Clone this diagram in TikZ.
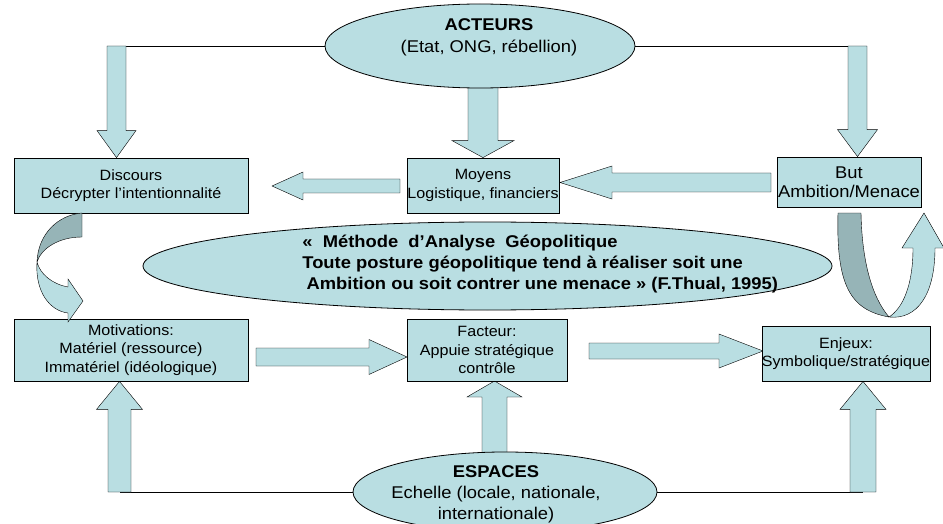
\documentclass[tikz,border=0pt]{standalone}
\usepackage{fontspec}
\setmainfont{Liberation Sans}[FakeStretch=1.08]
\usetikzlibrary{shapes.geometric,calc,backgrounds}
\definecolor{lb}{RGB}{185,222,226}
\definecolor{db}{RGB}{150,180,183}
\newcommand{\vblk}[5]{%
 \filldraw[blk] let \p1=(#1), \p2=(#2), \n1={sign(\y2-\y1)} in
  ({\x1-#3},\y1) -- ({\x1+#3},\y1) -- ({\x1+#3},{\y2-\n1*#5}) -- ({\x1+#4},{\y2-\n1*#5}) -- (\x1,\y2) -- ({\x1-#4},{\y2-\n1*#5}) -- ({\x1-#3},{\y2-\n1*#5}) -- cycle;}
\newcommand{\hblk}[5]{%
 \filldraw[blk] let \p1=(#1), \p2=(#2), \n1={sign(\x2-\x1)} in
  (\x1,{\y1-#3}) -- (\x1,{\y1+#3}) -- ({\x2-\n1*#5},{\y1+#3}) -- ({\x2-\n1*#5},{\y1+#4}) -- (\x2,\y1) -- ({\x2-\n1*#5},{\y1-#4}) -- ({\x2-\n1*#5},{\y1-#3}) -- cycle;}
\begin{document}
\begin{tikzpicture}[x=1pt,y=-1pt,line width=0.8pt,
  box/.style={draw,fill=lb,inner sep=0pt,align=center,font=\fontsize{14.9}{18.5}\selectfont},
  ell/.style={draw,fill=lb,ellipse,inner sep=0pt},
  blk/.style={draw,fill=lb,line join=miter},
  dblk/.style={draw,fill=db,line join=round},
  lbl/.style={align=center,inner sep=0pt}]
\useasboundingbox (0,0) rectangle (943,524);
% boxes
\node[box,minimum width=234pt,minimum height=55pt] (discours) at (131,185.5) {Discours\\Décrypter l’intentionnalité};
\node[box,minimum width=152pt,minimum height=55pt] (moyens) at (483,185.5) {Moyens\\Logistique, financiers};
\node[box,minimum width=144pt,minimum height=50pt,font=\fontsize{17}{19.5}\selectfont] (but) at (849,182) {But\\Ambition/Menace};
\node[box,minimum width=234pt,minimum height=62pt] (motiv) at (131,350) {Motivations:\\Matériel (ressource)\\Immatériel (idéologique)};
\node[box,minimum width=160pt,minimum height=62pt] (facteur) at (487,350) {Facteur:\\Appuie stratégique\\contrôle};
\node[box,minimum width=166pt,minimum height=55pt] (enjeux) at (846,353.5) {Enjeux:\\Symbolique/stratégique};
% ellipses
\node[ell,minimum width=310pt,minimum height=84pt] (acteurs) at (480,46) {};
\node[lbl,font=\fontsize{17}{22}\selectfont] (acteursT) at (489,37) {\textbf{ACTEURS}\\(Etat, ONG, rébellion)};
\node[ell,minimum width=689pt,minimum height=88pt] (methode) at (487.5,266) {};
\node[lbl,anchor=west,align=left,font=\bfseries\fontsize{17}{21}\selectfont] (methodeT) at (302,264)
  {«\ \ Méthode\ \ d’Analyse\ \ Géopolitique\\Toute posture géopolitique tend à réaliser soit une\\\hspace{0.25em}Ambition ou soit contrer une menace » (F.Thual, 1995)};
\node[ell,minimum width=304pt,minimum height=80pt] (espaces) at (505,492) {};
\node[lbl,font=\fontsize{17}{21}\selectfont] (espacesT) at (496,494) {\textbf{ESPACES}\\Echelle (locale, nationale,\\internationale)};
% connectors
\coordinate (a1) at (116.5,46);
\coordinate (a2) at (857.5,46);
\coordinate (e1) at (119.5,492);
\coordinate (e2) at (863,492);
\begin{pgfonlayer}{background}
\draw (acteurs.west) -- (a1);
\draw (acteurs.east) -- (a2);
\draw (espaces.west) -- (e1);
\draw (espaces.east) -- (e2);
\vblk{a1}{a1 |- discours.north}{9.5pt}{19.5pt}{27pt}
\vblk{a2}{a2 |- but.north}{9.5pt}{20pt}{27pt}
\vblk{moyens.north |- acteurs.center}{moyens.north}{15pt}{31pt}{17pt}
\vblk{e1}{e1 |- motiv.south}{11.5pt}{23pt}{28pt}
\vblk{e2}{e2 |- enjeux.south}{13pt}{23pt}{28pt}
\vblk{494.5,492}{494.5,381}{12.5pt}{27.5pt}{16pt}
\hblk{400,186}{272,186}{7pt}{14pt}{31pt}
\hblk{771,182.5}{560,182.5}{9.5pt}{16.5pt}{52pt}
\hblk{256,357}{407,357}{9pt}{17.5pt}{38pt}
\hblk{589,351}{763,351}{8pt}{17pt}{44pt}
\end{pgfonlayer}
% curved arrow left (Discours -> Motivations)
\filldraw[dblk] (82,213) .. controls (58,215) and (38,234) .. (37,262)
  .. controls (41,249) and (58,237) .. (82,237) -- cycle;
\filldraw[blk] (37,262) .. controls (35,292) and (50,311) .. (68,313) -- (68,322) -- (83,301) -- (68,279) -- (68,287)
  .. controls (52,284) and (40,274) .. (37,262) -- cycle;
% curved arrow right (But -> up)
\filldraw[dblk] (838,213) -- (861,213) .. controls (862,262) and (872,297) .. (889,317)
  .. controls (850,310) and (836,285) .. (838,213) -- cycle;
\filldraw[blk] (889,317) .. controls (917,320) and (935,295) .. (935,248) -- (944,248) -- (924,213) -- (902,248) -- (913,248)
  .. controls (913,285) and (903,308) .. (889,317) -- cycle;
\end{tikzpicture}
\end{document}
